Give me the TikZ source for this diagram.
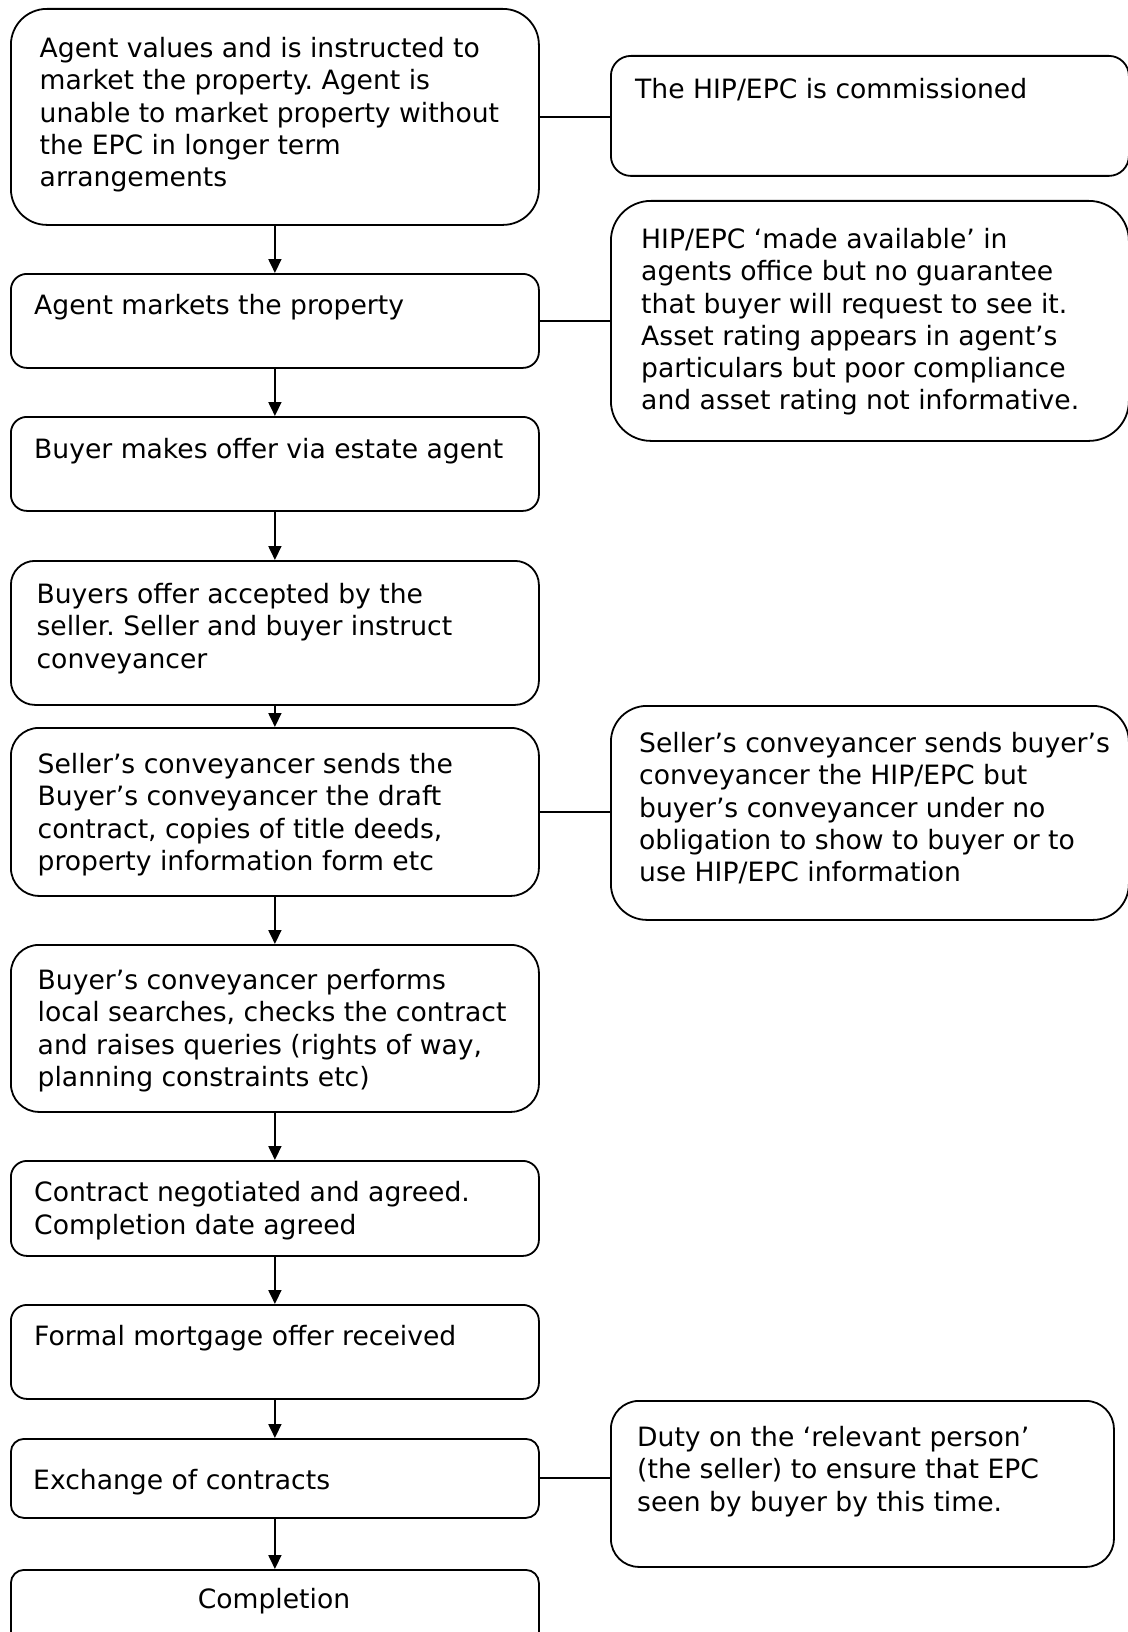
\documentclass[tikz,border=0pt]{standalone}
\usepackage{fontspec}
\setmainfont{DejaVu Sans}
\usetikzlibrary{arrows.meta}
\frenchspacing
\begin{document}
\begin{tikzpicture}[x=1pt,y=-1pt,
  box/.style={draw=black,line width=1.8pt,fill=white,anchor=north west,inner sep=0pt},
  txt/.style={anchor=north west,inner sep=0pt,align=left,font=\fontsize{26.6}{32.3}\selectfont},
  arr/.style={line width=1.8pt,-{Triangle[length=14pt,width=13pt]}},
  link/.style={line width=2pt}]
\useasboundingbox (0,0) rectangle (1127,1632);
% left column boxes
\node[box,minimum width=528pt,minimum height=216pt,rounded corners=36pt] (b1) at (10,8) {};
\node[box,minimum width=528pt,minimum height=94pt,rounded corners=16pt] (b2) at (10,273) {};
\node[box,minimum width=528pt,minimum height=94pt,rounded corners=16pt] (b3) at (10,416) {};
\node[box,minimum width=528pt,minimum height=144pt,rounded corners=24pt] (b4) at (10,560) {};
\node[box,minimum width=528pt,minimum height=168pt,rounded corners=28pt] (b5) at (10,727) {};
\node[box,minimum width=528pt,minimum height=167pt,rounded corners=28pt] (b6) at (10,944) {};
\node[box,minimum width=528pt,minimum height=95pt,rounded corners=16pt] (b7) at (10,1160) {};
\node[box,minimum width=528pt,minimum height=94pt,rounded corners=16pt] (b8) at (10,1304) {};
\node[box,minimum width=528pt,minimum height=79pt,rounded corners=13pt] (b9) at (10,1438) {};
\node[box,minimum width=528pt,minimum height=95pt,rounded corners=13pt] (b10) at (10,1569) {};
% right column boxes
\node[box,minimum width=518pt,minimum height=120pt,rounded corners=20pt] (r1) at (610,55) {};
\node[box,minimum width=518pt,minimum height=240pt,rounded corners=40pt] (r2) at (610,200) {};
\node[box,minimum width=518pt,minimum height=214pt,rounded corners=36pt] (r3) at (610,705) {};
\node[box,minimum width=503pt,minimum height=166pt,rounded corners=28pt] (r4) at (610,1400) {};
% texts
\node[txt] (t1) at (39.5,37) {Agent values and is instructed to\\market the property. Agent is\\unable to market property without\\the EPC in longer term\\arrangements};
\node[txt] (t2) at (34,294) {Agent markets the property};
\node[txt] (t3) at (34,438) {Buyer makes offer via estate agent};
\node[txt] (t4) at (36.4,583) {Buyers offer accepted by the\\seller. Seller and buyer instruct\\conveyancer};
\node[txt] (t5) at (37.5,753) {Seller’s conveyancer sends the\\Buyer’s conveyancer the draft\\contract, copies of title deeds,\\property information form etc};
\node[txt] (t6) at (37.5,969) {Buyer’s conveyancer performs\\local searches, checks the contract\\and raises queries (rights of way,\\planning constraints etc)};
\node[txt] (t7) at (34,1181.5) {Contract negotiated and agreed.\\Completion date agreed};
\node[txt] (t8) at (34,1325) {Formal mortgage offer received};
\node[txt] (t9) at (33,1469) {Exchange of contracts};
\node[txt,anchor=base] (t10) at (274,1608) {Completion};
\node[txt] (s1) at (635,78.5) {The HIP/EPC is commissioned};
\node[txt] (s2) at (641,228) {HIP/EPC ‘made available’ in\\agents office but no guarantee\\that buyer will request to see it.\\Asset rating appears in agent’s\\particulars but poor compliance\\and asset rating not informative.};
\node[txt] (s3) at (639,732) {Seller’s conveyancer sends buyer’s\\conveyancer the HIP/EPC but\\buyer’s conveyancer under no\\obligation to show to buyer or to\\use HIP/EPC information};
\node[txt] (s4) at (637,1426) {Duty on the ‘relevant person’\\(the seller) to ensure that EPC\\seen by buyer by this time.};
% arrows
\draw[arr] (b1.south) -- (b2.north);
\draw[arr] (b2.south) -- (b3.north);
\draw[arr] (b3.south) -- (b4.north);
\draw[arr] (b4.south) -- (b5.north);
\draw[arr] (b5.south) -- (b6.north);
\draw[arr] (b6.south) -- (b7.north);
\draw[arr] (b7.south) -- (b8.north);
\draw[arr] (b8.south) -- (b9.north);
\draw[arr] (b9.south) -- (b10.north);
% links
\draw[link] (b1.east) -- (b1.east -| r1.west);
\draw[link] (b2.east) -- (b2.east -| r2.west);
\draw[link] (b5.east) -- (b5.east -| r3.west);
\draw[link] (b9.east) -- (b9.east -| r4.west);
\end{tikzpicture}
\end{document}
